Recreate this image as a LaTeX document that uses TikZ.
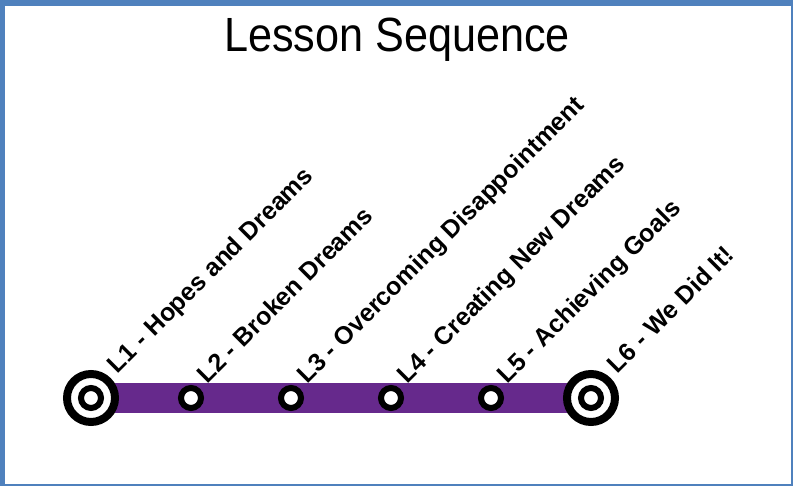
\documentclass[tikz,border=0pt]{standalone}
\usepackage{fontspec}
\setmainfont{Liberation Sans}
\usetikzlibrary{positioning, backgrounds}
\definecolor{lessonblue}{RGB}{79,129,189}
\definecolor{lessonpurple}{RGB}{102,41,140}
\tikzset{
  stop/.style={draw=black, fill=white, circle, line width=6pt, minimum size=20pt, inner sep=0pt},
  bigstop/.style={draw=black, fill=white, circle, line width=8pt, minimum size=48pt, inner sep=0pt},
  lesson/.style={xshift=7pt, yshift=4pt, rotate=45, anchor=base west, inner sep=0pt, font=\fontsize{25}{25}\selectfont\bfseries}
}

\begin{document}
\begin{tikzpicture}[x=1pt, y=-1pt]
        \useasboundingbox (0,0) rectangle (793,486);
        \node [font=\fontsize{48}{48}\selectfont, xscale=0.9, anchor=base] (title) at (397,52) {Lesson Sequence};

        \node [bigstop] (S1) at (91,398) {}; \node [stop] (S1c) at (S1) {};
        \node [stop, right=59pt of S1] (S2) {};
        \node [stop, right=74pt of S2] (S3) {};
        \node [stop, right=74pt of S3] (S4) {};
        \node [stop, right=74pt of S4] (S5) {};
        \node [bigstop, right=59pt of S5] (S6) {}; \node [stop] (S6c) at (S6) {};

        \node [lesson] (L1) at (S1.north east) {L1 - Hopes and Dreams};
        \node [lesson] (L2) at (S2.north east) {L2 - Broken Dreams};
        \node [lesson] (L3) at (S3.north east) {L3 - Overcoming Disappointment};
        \node [lesson] (L4) at (S4.north east) {L4 - Creating New Dreams};
        \node [lesson] (L5) at (S5.north east) {L5 - Achieving Goals};
        \node [lesson] (L6) at (S6.north east) {L6 - We Did It!};

        \begin{scope}[on background layer]
        \fill [lessonblue] (0,0) rectangle (793,486);
        \fill [white] (5,6) rectangle (791,484);
        \draw [lessonpurple, line width=30pt] (S1.center) -- (S6.center);
        \end{scope}
\end{tikzpicture}
\end{document}
